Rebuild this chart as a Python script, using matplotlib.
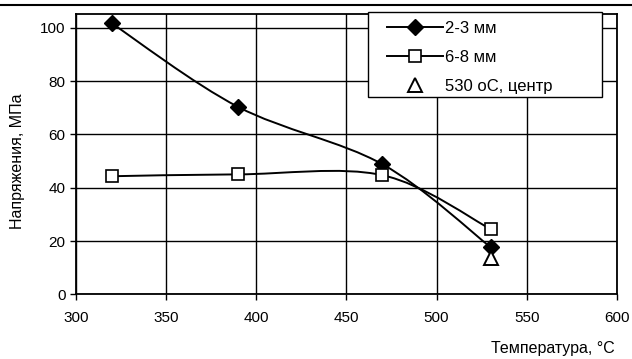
import numpy as np
import matplotlib
matplotlib.use("Agg")
from matplotlib import pyplot as plt
from matplotlib.path import Path
from matplotlib.patches import PathPatch, Rectangle
from matplotlib.lines import Line2D

# Данные
temps = [320, 390, 470, 530]
s_2_3 = [101.6, 70.3, 48.8, 17.7]
s_6_8 = [44.3, 45.0, 44.7, 24.5]
center_t = [530]
center_s = [13.5]

x_ticks = [300, 350, 400, 450, 500, 550, 600]
y_ticks = [0, 20, 40, 60, 80, 100]

plt.rcParams['font.family'] = ['Liberation Sans', 'DejaVu Sans']


def smooth_path(xs, ys):
    # сглаженная линия как в Excel (кубические кривые Безье)
    pts = np.column_stack([xs, ys]).astype(float)
    n = len(pts)
    verts = [pts[0]]
    codes = [Path.MOVETO]
    for i in range(n - 1):
        p0 = pts[i - 1] if i > 0 else pts[i]
        p1 = pts[i]
        p2 = pts[i + 1]
        p3 = pts[i + 2] if i + 2 < n else pts[i + 1]
        c1 = p1 + (p2 - p0) / 6.0
        c2 = p2 - (p3 - p1) / 6.0
        verts += [c1, c2, p2]
        codes += [Path.CURVE4] * 3
    return Path(verts, codes)


fig = plt.figure(figsize=(6.32, 3.59), dpi=100)
ax = fig.add_axes([0.120, 0.180, 0.856, 0.780])

for ys in (s_2_3, s_6_8):
    ax.add_patch(PathPatch(smooth_path(temps, ys), facecolor='none',
                           edgecolor='black', lw=1.4, zorder=3))

ax.plot(temps, s_2_3, ls='none', marker='D', ms=8, mfc='black', mec='black', zorder=4)
ax.plot(temps, s_6_8, ls='none', marker='s', ms=8, mfc='white', mec='black', mew=1.2, zorder=4)
ax.plot(center_t, center_s, ls='none', marker='^', ms=10, mfc='white', mec='black', mew=1.4, zorder=4)

ax.set_xlim(300, 600)
ax.set_ylim(0, 105)
ax.set_xticks(x_ticks)
ax.set_yticks(y_ticks)
ax.grid(True, color='black', lw=1.0)
ax.set_axisbelow(True)
for sp in ax.spines.values():
    sp.set_color('black')
    sp.set_linewidth(1.3)
ax.tick_params(axis='both', direction='out', length=4, width=1, labelsize=11, colors='black')
ax.tick_params(axis='x', pad=8)

fig.text(0.027, 0.551, 'Напряжения, МПа', rotation=90, ha='center', va='center', fontsize=11.5)
fig.text(0.972, 0.028, 'Температура, °С', ha='right', va='center', fontsize=11.5)

# рамка легенды
fig.add_artist(Rectangle((0.582, 0.730), 0.370, 0.237, transform=fig.transFigure,
                         facecolor='white', edgecolor='black', lw=1.0, zorder=5))

handles = [
    Line2D([], [], color='black', lw=1.4, marker='D', ms=8, mfc='black'),
    Line2D([], [], color='black', lw=1.4, marker='s', ms=8, mfc='white', mew=1.2),
    Line2D([], [], ls='none', marker='^', ms=10, mfc='white', mec='black', mew=1.4),
]
leg = fig.legend(handles, ['2-3 мм', '6-8 мм', '530 oC, центр'],
                 loc='upper left', bbox_to_anchor=(0.612, 0.942),
                 fontsize=12, handlelength=3.4, handletextpad=0.1,
                 labelspacing=0.85, borderpad=0, borderaxespad=0,
                 frameon=False)
leg.set_zorder(6)

# линия обреза страницы сверху
fig.add_artist(Line2D([0, 1], [0.986, 0.986], color='black', lw=1.5,
                      transform=fig.transFigure))

plt.savefig('out.png', dpi=100)
